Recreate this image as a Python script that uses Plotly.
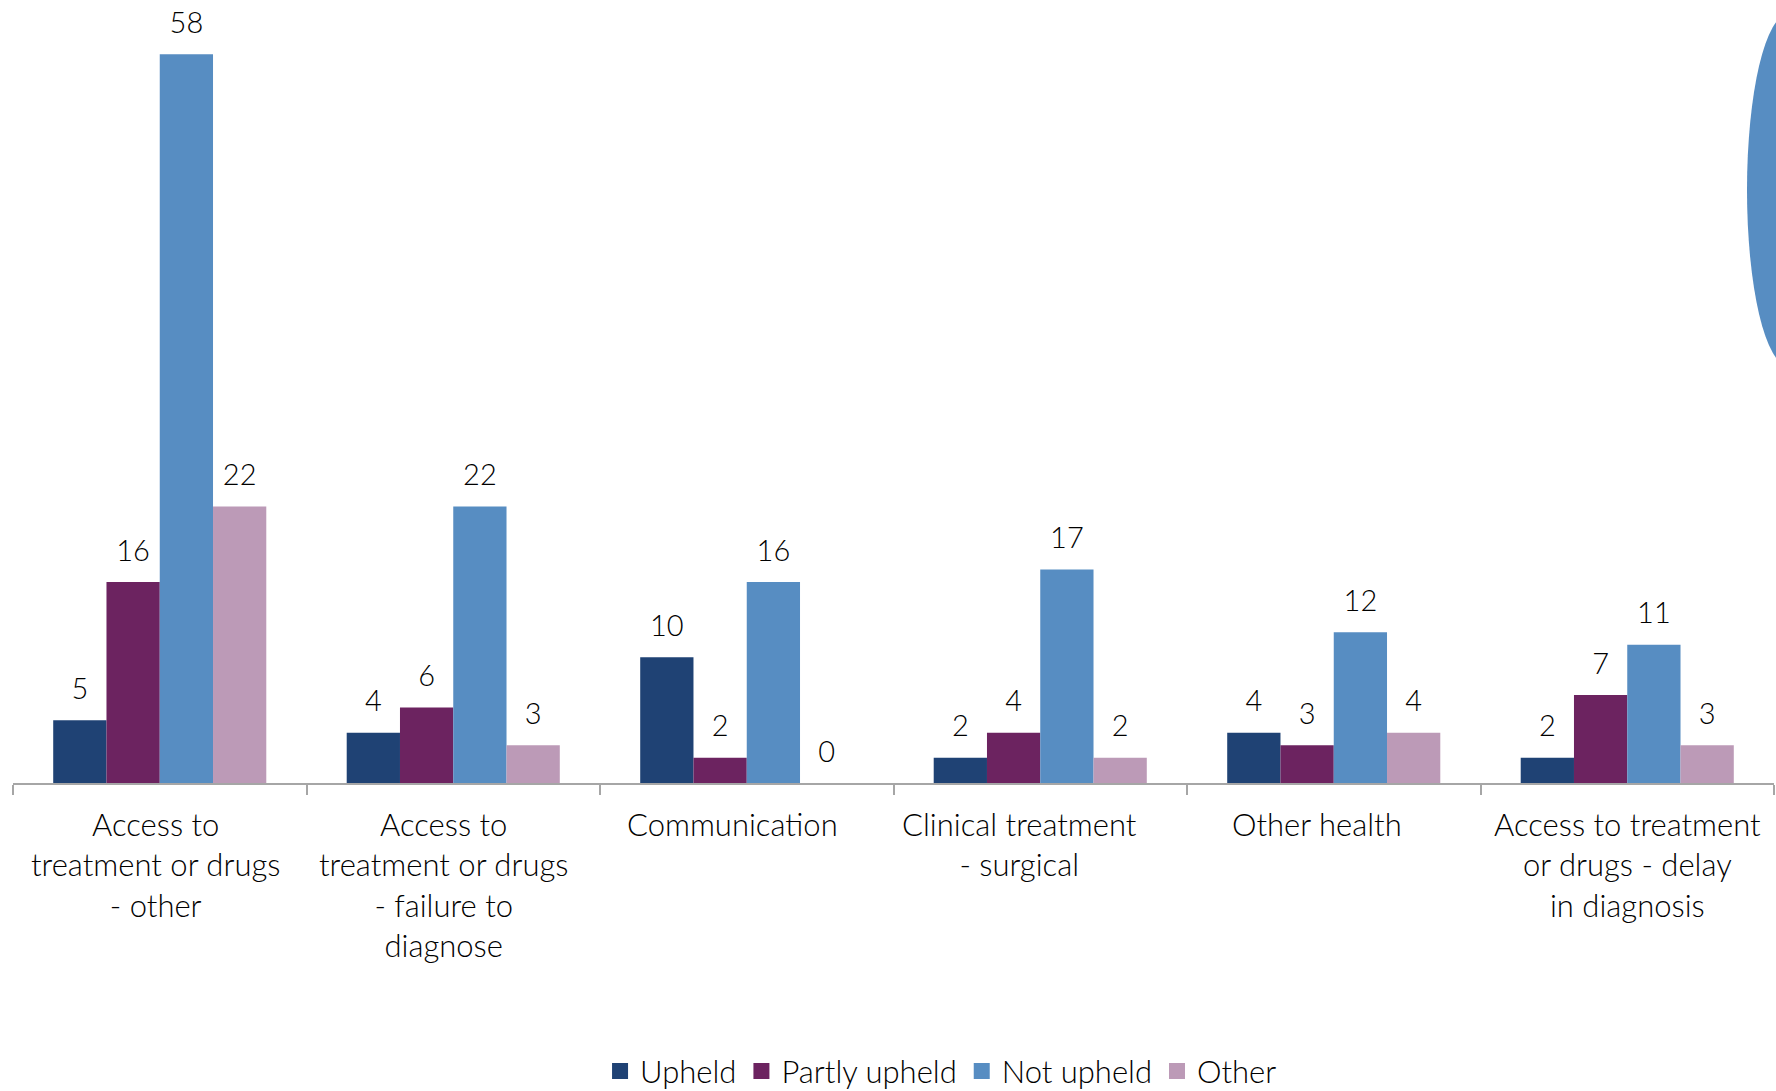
import plotly.graph_objects as go

# Complaint categories (x axis) and outcome counts per category
categories = [
    "Access to<br>treatment or drugs<br>- other",
    "Access to<br>treatment or drugs<br>- failure to<br>diagnose",
    "Communication",
    "Clinical treatment<br>- surgical",
    "Other health",
    "Access to treatment<br>or drugs - delay<br>in diagnosis",
]
upheld = [5, 4, 10, 2, 4, 2]
partly_upheld = [16, 6, 2, 4, 3, 7]
not_upheld = [58, 22, 16, 17, 12, 11]
other = [22, 3, 0, 2, 4, 3]

series = [
    ("Upheld", upheld, "#1f4274"),
    ("Partly upheld", partly_upheld, "#6c2360"),
    ("Not upheld", not_upheld, "#578dc2"),
    ("Other", other, "#bc9ab7"),
]

# horizontal nudge (px) of each category caption under the axis
label_shifts = [-4, -10, -14, -21, -17, 0]

W, H = 1776, 1091
ML, MR, MT, MB = 13, 2, 4, 308
FONT = "Lato"
TXT = "#000000"
WEIGHT = 300

fig = go.Figure()
for i, (name, vals, col) in enumerate(series):
    fig.add_trace(go.Bar(
        name=name, x=categories, y=vals, marker_color=col,
        marker_line_width=0, offsetgroup=str(i), hoverinfo="skip",
        showlegend=False,
    ))
# value labels sitting above each bar
for i, (name, vals, col) in enumerate(series):
    fig.add_trace(go.Scatter(
        x=categories, y=vals, text=[str(v) for v in vals],
        mode="markers+text", textposition="top center",
        marker=dict(size=21, opacity=0, color=col),
        textfont=dict(family=FONT, size=29, color=TXT, weight=WEIGHT),
        offsetgroup=str(i), orientation="v",
        showlegend=False, hoverinfo="skip", cliponaxis=False,
    ))
# legend keys: square swatches
for i, (name, vals, col) in enumerate(series):
    fig.add_trace(go.Scatter(
        x=[None], y=[None], name=name, mode="markers",
        marker=dict(symbol="square", size=16, color=col),
        offsetgroup=str(i), orientation="v", showlegend=True,
        hoverinfo="skip",
    ))

# category captions below the axis
for cat, dx in zip(categories, label_shifts):
    fig.add_annotation(
        x=cat, y=0, xref="x", yref="y", xanchor="center", yanchor="top",
        xshift=dx, yshift=-20, showarrow=False, align="center",
        text=cat, font=dict(family=FONT, size=31, color=TXT, weight=WEIGHT),
    )

pw = W - ML - MR
ph = H - MT - MB


def px_x(p):
    return (p - ML) / pw


def px_y(p):
    return (H - MB - p) / ph


# decorative ellipse at the top-right edge
fig.add_shape(
    type="circle", xref="paper", yref="paper",
    x0=px_x(1747), x1=px_x(1830), y0=px_y(14), y1=px_y(366),
    fillcolor="#578dc2", line_width=0, layer="below",
)

fig.update_layout(
    width=W, height=H,
    margin=dict(l=ML, r=MR, t=MT, b=MB, autoexpand=False),
    paper_bgcolor="white", plot_bgcolor="white",
    barmode="group", bargap=0.274, bargroupgap=0,
    scattermode="group", scattergap=0.274,
    font=dict(family=FONT, size=31, color=TXT, weight=WEIGHT),
    showlegend=True,
    legend=dict(
        orientation="h", x=0.527, xanchor="center", y=-0.37, yanchor="middle",
        font=dict(family=FONT, size=31, color=TXT, weight=WEIGHT),
        traceorder="normal", itemclick=False, itemdoubleclick=False,
    ),
    xaxis=dict(
        showline=True, linecolor="#a6a6a6", linewidth=2,
        ticks="outside", tickson="boundaries", ticklen=10, tickwidth=2,
        tickcolor="#a6a6a6", showgrid=False, zeroline=False,
        showticklabels=False, fixedrange=True,
    ),
    yaxis=dict(
        range=[0, 62], visible=False, showgrid=False, zeroline=False,
        fixedrange=True,
    ),
)

fig.write_html("out.html", config={"displayModeBar": False})
